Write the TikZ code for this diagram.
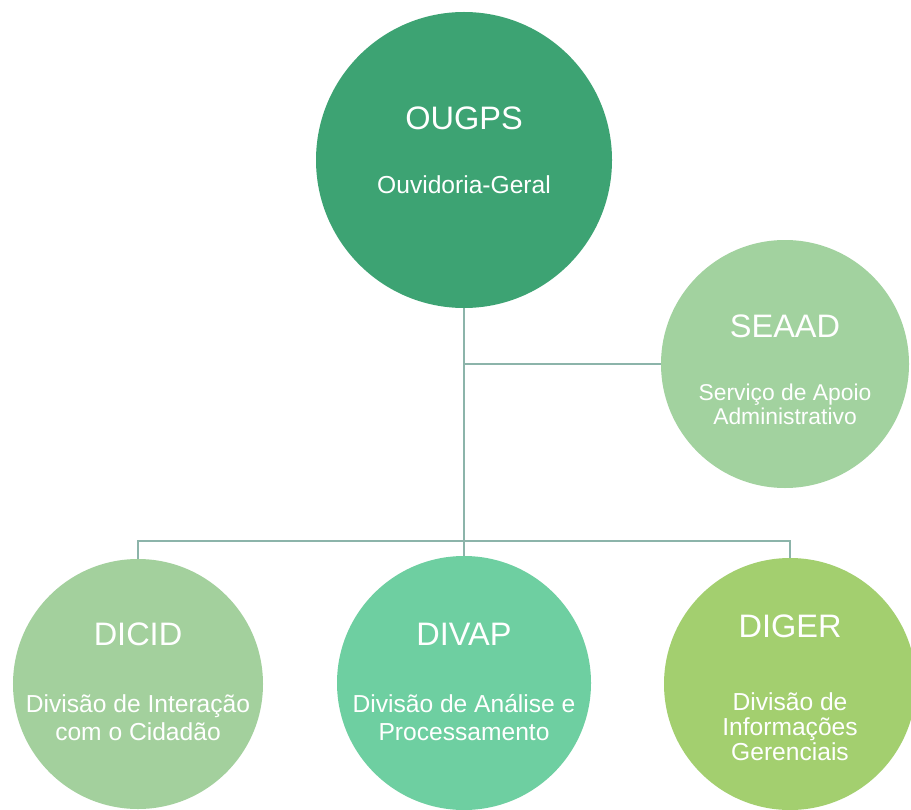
\documentclass[tikz,border=0pt]{standalone}
\usepackage{fontspec}
\setmainfont{Liberation Sans}
\usetikzlibrary{positioning}

\definecolor{ougpsgreen}{RGB}{61,163,115}
\definecolor{seaadgreen}{RGB}{162,210,159}
\definecolor{dicidgreen}{RGB}{163,208,157}
\definecolor{divapgreen}{RGB}{110,207,161}
\definecolor{digergreen}{RGB}{163,207,111}
\definecolor{linkgray}{RGB}{140,180,170}

\begin{document}
\begin{tikzpicture}[
    unit/.style={circle, inner sep=0pt, minimum size=#1},
    sigla/.style={text=white, inner sep=0pt, anchor=base, font=\fontsize{18.5}{20}\selectfont},
    nome/.style={text=white, inner sep=0pt, anchor=north, align=center},
    link/.style={draw=linkgray, line width=1.1pt}
  ]
  \fill[white] (0,0) rectangle (18.22,-16.2);
  \useasboundingbox (0,0) rectangle (18.22,-16.2);

  % unidades
  \node[unit=5.92cm, fill=ougpsgreen] (ougps) at (9.28,-3.2) {};
  \node[unit=4.96cm, fill=seaadgreen] (seaad) at (15.7,-7.28) {};
  \node[unit=5cm, fill=dicidgreen] (dicid) at (2.76,-13.68) {};
  \node[unit=5.08cm, fill=divapgreen] (divap) at (9.28,-13.66) {};
  \node[unit=5.04cm, fill=digergreen] (diger) at (15.8,-13.68) {};

  % ligacoes
  \coordinate (bar) at (9.28,-10.82);
  \draw[link] (ougps) -- (divap);
  \draw[link] (seaad.west) -- (ougps |- seaad.west);
  \draw[link] (dicid.north) |- (bar) -| (diger.north);

  % textos
  \node[sigla] (ougps-sigla) at ([yshift=0.6cm]ougps.center) {OUGPS};
  \node[nome, font=\fontsize{14}{16}\selectfont] (ougps-nome) at ([yshift=-0.3cm]ougps.center) {Ouvidoria-Geral};

  \node[sigla] (seaad-sigla) at ([yshift=0.54cm]seaad.center) {SEAAD};
  \node[nome, font=\fontsize{13}{12}\selectfont] (seaad-nome) at ([yshift=-0.4cm]seaad.center) {Serviço de Apoio\\Administrativo};

  \node[sigla] (dicid-sigla) at ([yshift=0.78cm]dicid.center) {DICID};
  \node[nome, font=\fontsize{14}{15.9}\selectfont] (dicid-nome) at ([yshift=-0.2cm]dicid.center) {Divisão de Interação\\com o Cidadão};

  \node[sigla] (divap-sigla) at ([yshift=0.76cm]divap.center) {DIVAP};
  \node[nome, font=\fontsize{14}{15.9}\selectfont] (divap-nome) at ([yshift=-0.22cm]divap.center) {Divisão de Análise e\\Processamento};

  \node[sigla] (diger-sigla) at ([yshift=0.94cm]diger.center) {DIGER};
  \node[nome, font=\fontsize{14}{14.2}\selectfont] (diger-nome) at ([yshift=-0.16cm]diger.center) {Divisão de\\Informações\\Gerenciais};
\end{tikzpicture}
\end{document}
